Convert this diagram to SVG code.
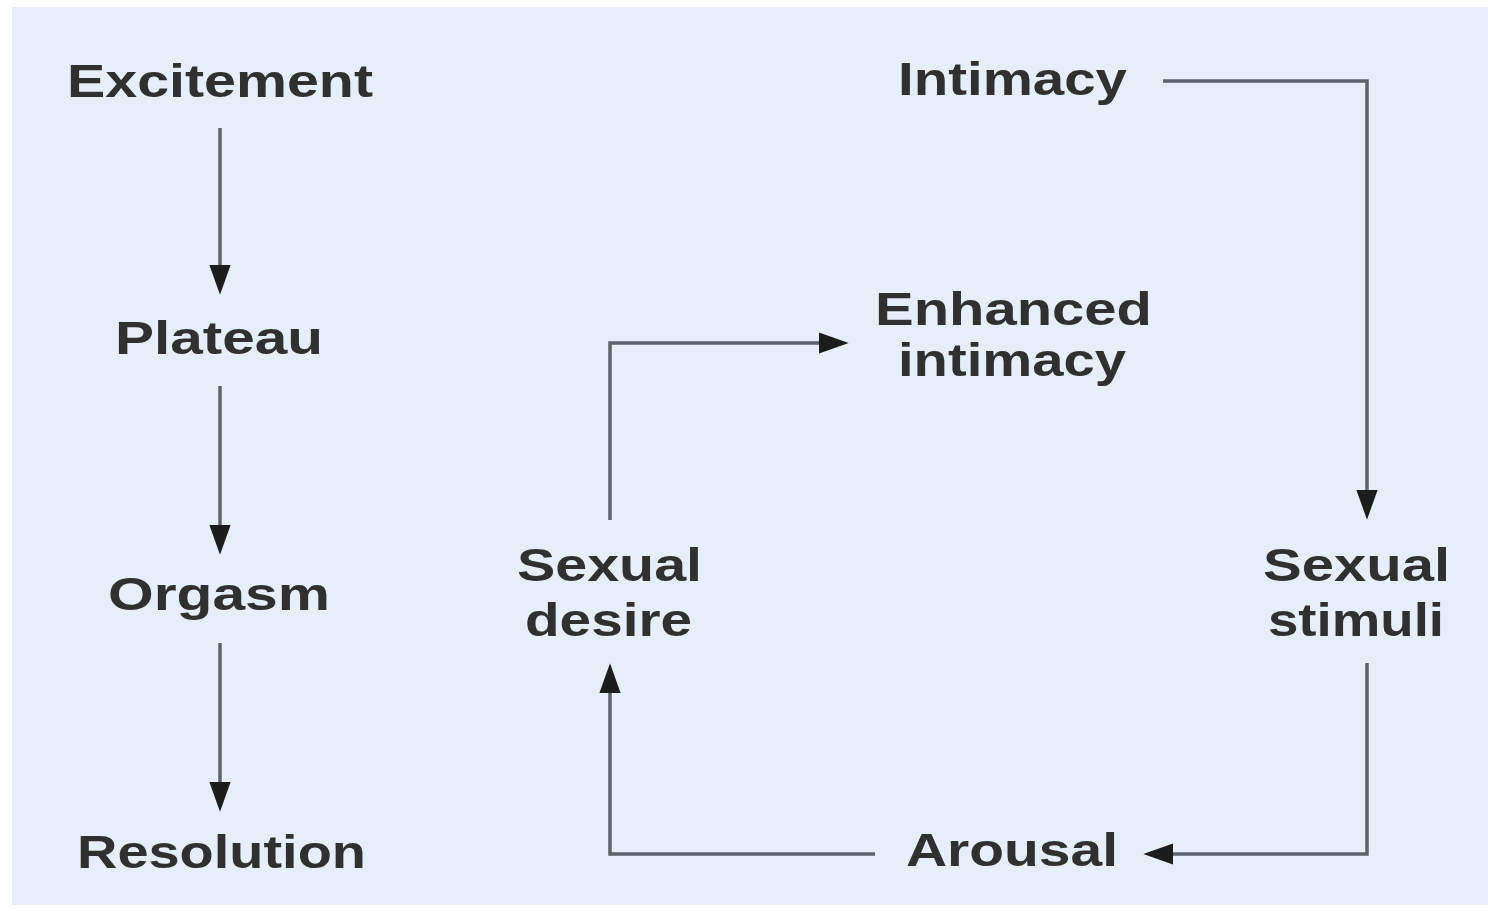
<svg xmlns="http://www.w3.org/2000/svg" width="1488" height="911" viewBox="0 0 1488 911">
  <style>
    .lbl { font-family: "Liberation Sans", Arial, sans-serif; font-weight: bold; font-size: 46px; fill: #303030; }
    .conn { fill: none; stroke: #5e6269; stroke-width: 3.5; stroke-linejoin: miter; }
  </style>
  <defs>
    <marker id="arr" markerUnits="userSpaceOnUse" markerWidth="30" markerHeight="22" viewBox="0 0 28 20" refX="4" refY="10" orient="auto">
      <path d="M0,0 L28,10 L0,20 Z" fill="#1c1c1c"/>
    </marker>
  </defs>
  <rect x="0" y="0" width="1488" height="911" fill="#ffffff"/>
  <rect x="12" y="7" width="1476" height="898" fill="#e7eef7"/>

  <g id="connectors">
    <path class="conn" d="M220,128 L220,269" marker-end="url(#arr)"/>
    <path class="conn" d="M220,386 L220,529" marker-end="url(#arr)"/>
    <path class="conn" d="M220,643 L220,786" marker-end="url(#arr)"/>
    <path class="conn" d="M1163,81 L1367,81 L1367,494" marker-end="url(#arr)"/>
    <path class="conn" d="M1367,663 L1367,854 L1169,854" marker-end="url(#arr)"/>
    <path class="conn" d="M875,854 L610,854 L610,689" marker-end="url(#arr)"/>
    <path class="conn" d="M610,520 L610,343 L823,343" marker-end="url(#arr)"/>
  </g>

  <g id="excitement"><text class="lbl" x="67" y="97" textLength="306" lengthAdjust="spacingAndGlyphs">Excitement</text></g>
  <g id="plateau"><text class="lbl" x="115" y="354" textLength="208" lengthAdjust="spacingAndGlyphs">Plateau</text></g>
  <g id="orgasm"><text class="lbl" x="108" y="610" textLength="222" lengthAdjust="spacingAndGlyphs">Orgasm</text></g>
  <g id="resolution"><text class="lbl" x="77" y="868" textLength="289" lengthAdjust="spacingAndGlyphs">Resolution</text></g>
  <g id="intimacy"><text class="lbl" x="898" y="95" textLength="229" lengthAdjust="spacingAndGlyphs">Intimacy</text></g>
  <g id="enhanced-intimacy">
    <text class="lbl" x="875" y="325" textLength="277" lengthAdjust="spacingAndGlyphs">Enhanced</text>
    <text class="lbl" x="898" y="376" textLength="228" lengthAdjust="spacingAndGlyphs">intimacy</text>
  </g>
  <g id="sexual-desire">
    <text class="lbl" x="517" y="581" textLength="185" lengthAdjust="spacingAndGlyphs">Sexual</text>
    <text class="lbl" x="525" y="636" textLength="167" lengthAdjust="spacingAndGlyphs">desire</text>
  </g>
  <g id="sexual-stimuli">
    <text class="lbl" x="1263" y="581" textLength="187" lengthAdjust="spacingAndGlyphs">Sexual</text>
    <text class="lbl" x="1268" y="636" textLength="176" lengthAdjust="spacingAndGlyphs">stimuli</text>
  </g>
  <g id="arousal"><text class="lbl" x="906" y="866" textLength="212" lengthAdjust="spacingAndGlyphs">Arousal</text></g>
</svg>
